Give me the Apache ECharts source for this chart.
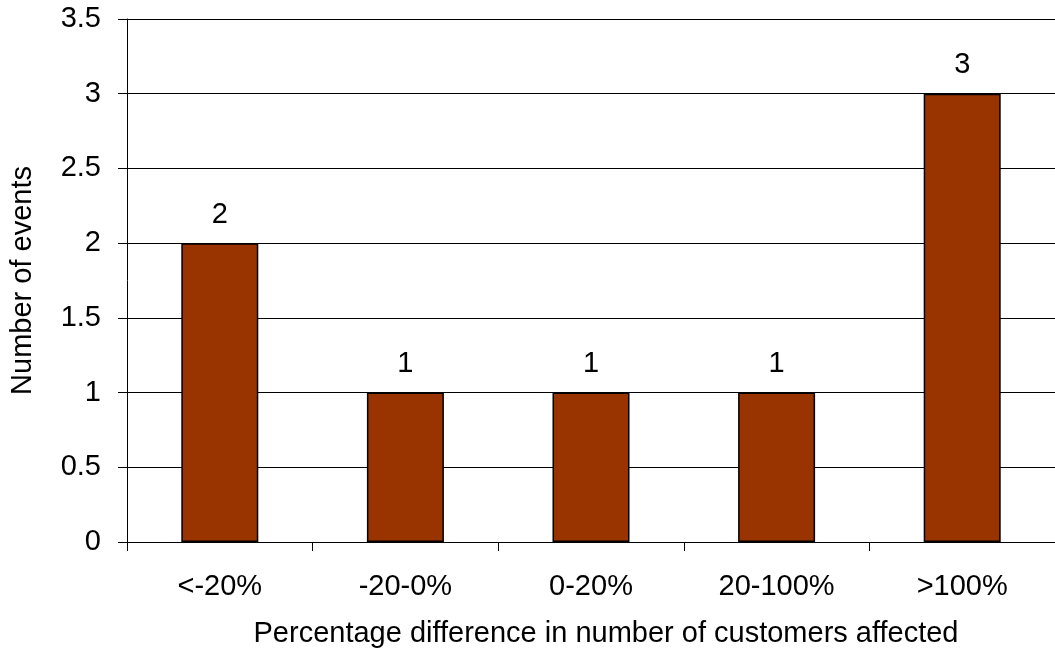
<!DOCTYPE html>
<html>
<head>
<meta charset="utf-8">
<script src="https://cdn.jsdelivr.net/npm/echarts@6/dist/echarts.min.js"></script>
<style>html,body{margin:0;padding:0;background:#fff;}#c{width:1055px;height:653px;}</style>
</head>
<body>
<div id="c"></div>
<script>
var categories = ['<-20%', '-20-0%', '0-20%', '20-100%', '>100%'];
var events = [2, 1, 1, 1, 3];
var yTicks = [0, 0.5, 1, 1.5, 2, 2.5, 3, 3.5];

var chart = echarts.init(document.getElementById('c'), null, {renderer: 'canvas'});
var font = 'Liberation Sans, Arial, sans-serif';
chart.setOption({
  animation: false,
  grid: {left: 123, width: 941, top: 19, height: 524, containLabel: false},
  xAxis: {
    type: 'category',
    data: categories,
    name: 'Percentage difference in number of customers affected',
    nameLocation: 'middle',
    nameGap: 77,
    nameTextStyle: {fontFamily: font, fontSize: 29, color: '#000', padding: [0, 0, 0, 30]},
    axisLine: {lineStyle: {color: '#000', width: 1}},
    axisTick: {show: true, length: 9, lineStyle: {color: '#000'}},
    axisLabel: {fontFamily: font, fontSize: 29, color: '#000', margin: 30},
    boundaryGap: true
  },
  yAxis: {
    type: 'value',
    min: 0, max: 3.5, interval: 0.5,
    name: 'Number of events',
    nameLocation: 'middle',
    nameGap: 90,
    nameTextStyle: {fontFamily: font, fontSize: 29, color: '#000'},
    axisLine: {show: true, lineStyle: {color: '#000', width: 1}},
    axisTick: {show: true, length: 9, lineStyle: {color: '#000'}},
    axisLabel: {fontFamily: font, fontSize: 29, color: '#000', margin: 26,
      formatter: function (v) { return yTicks.indexOf(v) >= 0 ? String(v) : ''; }},
    splitLine: {show: true, lineStyle: {color: '#000', width: 1}}
  },
  series: [{
    type: 'bar',
    data: events,
    barWidth: 77,
    itemStyle: {color: '#993300', borderColor: '#000', borderWidth: 1.5},
    label: {show: true, position: 'top', distance: 14, fontFamily: font, fontSize: 29, color: '#000'}
  }]
});
</script>
</body>
</html>
